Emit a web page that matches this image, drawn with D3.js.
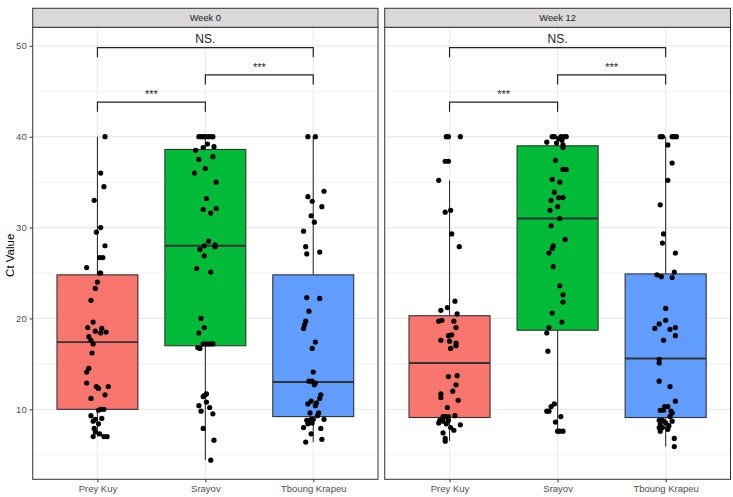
<!DOCTYPE html>
<html>
<head>
<meta charset="utf-8">
<script src="https://cdn.jsdelivr.net/npm/d3@7"></script>
<style>
  body { margin: 0; background: #fff; }
  svg { display: block; font-family: "Liberation Sans", Arial, sans-serif; }
</style>
</head>
<body>
<svg id="chart"></svg>
<script>
// ---- data ----------------------------------------------------------
const facets = ["Week 0", "Week 12"];
const sites = ["Prey Kuy", "Srayov", "Tboung Krapeu"];
const siteColors = ["#F8766D", "#00BA38", "#619CFF"];

// box stats per facet, per site
const whiskerLow  = [[7.0, 4.4, 6.4], [6.5, 7.6, 5.9]];
const q1          = [[10.0, 17.0, 9.2], [9.1, 18.7, 9.1]];
const medians     = [[17.4, 28.0, 13.0], [15.1, 31.0, 15.6]];
const q3          = [[24.8, 38.6, 24.8], [20.3, 39.0, 24.9]];
const whiskerHigh = [[40, 40, 40], [35.2, 40, 40]];

// jittered observations: [Ct value, horizontal jitter in category units]
const w0PreyKuy = [[40,.07],[36,.03],[34.5,.06],[33,-.03],[30,.03],[29.5,-.01],[28,.07],[26.7,.02],[26.7,.05],[25.6,-.10],[25,.02],[25,.03],[24,0],[23.3,-.02],[22,-.06],[19.6,-.04],[19,-.09],[18.6,-.02],[18.9,.04],[18.5,.08],[18.4,.03],[18,-.08],[17.6,-.06],[17.2,-.04],[16.2,-.05],[14.5,-.08],[14.1,-.10],[12.9,-.10],[12.5,-.01],[12.3,.01],[12.5,.10],[11.6,.07],[11.2,-.06],[10,.03],[10,.06],[9.9,.01],[9.3,-.06],[8.9,-.02],[9,.04],[8.7,-.04],[8.4,.01],[7.9,-.03],[7.5,-.02],[7.3,.02],[7,-.04],[7,.06],[7,.09]];
const w0Srayov = [[40,-.06],[40,-.04],[40,-.02],[40,0],[40,.03],[40,.06],[40,.07],[39.2,.02],[38.8,-.02],[38.9,.08],[38.5,-.09],[37.5,-.06],[37.8,.07],[36.5,0],[36,-.10],[35,.10],[33.2,.01],[32,-.02],[31.6,.05],[32.1,.10],[28.5,.03],[27.6,-.05],[28,-.01],[28.1,.09],[27.9,.09],[26.9,-.01],[25.5,-.08],[25.1,.05],[20,-.04],[19,-.01],[18.4,-.06],[17.2,-.02],[17.2,.01],[17.2,.04],[17.2,.07],[16.8,-.07],[16.7,-.05],[11.7,.01],[11.5,-.01],[11.4,-.02],[10.8,.01],[10.4,-.06],[10.2,.04],[9.8,-.04],[9.5,.07],[7.9,-.02],[6.6,.08],[4.4,.05]];
const w0Tboung = [[40,-.05],[40,.02],[34,.10],[33.4,-.05],[32.9,-.01],[32.3,.08],[31.3,-.02],[30.6,.01],[29.6,-.09],[27.9,-.07],[27.1,-.06],[27.3,.06],[22.3,-.06],[22.2,.06],[20.8,-.04],[19.7,-.07],[19.3,-.08],[18.9,-.09],[17.4,.02],[16.7,-.01],[14.1,0],[13.1,-.04],[13.1,-.01],[12.9,.02],[12.7,.01],[11.6,.07],[11.2,.06],[10.9,-.02],[10.6,-.05],[10.7,.03],[10.4,.02],[9.6,-.03],[9.6,.05],[9.3,.04],[8.8,-.06],[8.7,-.04],[8.9,-.02],[8.9,0],[8.9,.10],[8.4,-.05],[8.5,-.01],[8,-.09],[7.9,.07],[7.3,-.02],[6.7,.08],[6.4,-.07]];
const w12PreyKuy = [[40,-.03],[40,-.01],[40,.10],[37.3,-.04],[37.3,-.01],[35.2,-.10],[31.7,-.04],[31.9,.01],[29.3,.02],[27.9,.09],[21.9,.05],[20.9,-.08],[21.2,-.02],[20.5,.07],[19.7,-.10],[19.8,-.07],[19.7,.04],[19,.06],[18.1,-.01],[18.2,.02],[17.6,-.08],[17.5,0],[17.3,.06],[17,.06],[16.7,.01],[13.7,.07],[13.6,-.01],[12.7,.06],[11.7,-.08],[12,.03],[11.3,-.08],[11,.08],[10.2,-.02],[9.3,.05],[9.2,-.06],[9.2,-.04],[9.2,-.01],[8.8,-.09],[8.8,-.01],[8.5,-.10],[8.7,-.06],[8.4,-.03],[8,.01],[7.7,.04],[8.3,.10],[7.4,-.06],[6.8,-.04],[6.5,-.04]];
const w12Srayov = [[40,-.05],[40,-.03],[40,.03],[40,.06],[40,.08],[39.8,.01],[39.6,.04],[39.4,-.10],[39.3,-.01],[39.1,.05],[38.8,.05],[37.4,-.02],[36.4,.05],[36.4,.08],[35.3,-.05],[35,.02],[33.9,-.03],[33.3,.01],[33.3,.05],[33,-.06],[32.3,0],[31.9,-.07],[31,.02],[30.2,-.06],[28.7,.07],[28,-.04],[27.7,-.05],[27.2,-.08],[25.7,-.04],[23.6,.02],[22.6,.05],[21.8,.05],[20.6,-.05],[19.6,.04],[19,-.08],[18.4,-.10],[16.4,-.09],[10.6,-.03],[10.3,-.06],[9.8,-.08],[9.8,-.10],[9.2,.03],[8.6,-.02],[7.6,0],[7.6,.02],[7.6,.05]];
const w12Tboung = [[40,-.05],[40,-.03],[40,.06],[40,.08],[40,.10],[39.1,.02],[37.1,.06],[35.2,.02],[32.5,-.05],[29.3,-.02],[28.3,-.03],[27.2,.09],[24.8,-.08],[24.6,-.04],[24.5,.06],[25.1,.08],[21.1,0],[18.9,-.10],[19.4,-.06],[19.8,0],[18.8,.04],[19,.09],[18.1,.09],[17.6,-.02],[15.5,-.06],[15.1,-.06],[13.1,-.06],[12.5,.04],[10.9,.09],[10.3,-.01],[10.3,.02],[9.9,-.05],[9.9,-.02],[9.8,.05],[9.6,.06],[9.2,.04],[8.8,-.06],[8.8,-.03],[8.7,.06],[8.4,-.05],[8.5,0],[8.2,.03],[8,-.06],[8,-.03],[7.8,.02],[7.6,-.05],[6.8,.08],[5.9,.08]];
const observations = [[w0PreyKuy, w0Srayov, w0Tboung], [w12PreyKuy, w12Srayov, w12Tboung]];

// significance brackets (same in both facets)
const comparisons = [[0, 1], [1, 2], [0, 2]];
const bracketY = [43.8, 46.8, 49.8];
const bracketLabels = ["***", "***", "NS."];

const yTicks = [10, 20, 30, 40, 50];
const yMinor = [5, 15, 25, 35, 45];

// ---- layout --------------------------------------------------------
const width = 733, height = 497;
const stripTop = 8.3, panelTop = 27.3, panelBottom = 479.3;
const panelX = [[32.7, 378], [384.7, 730.5]];
const tipLen = 1.05;
const ink = "#333333", grid = "#EBEBEB";

const svg = d3.select("#chart").attr("width", width).attr("height", height);

const y = d3.scaleLinear().domain([2.3, 52.04]).range([panelBottom, panelTop]);

facets.forEach((facet, fi) => {
  const [x0, x1] = panelX[fi];
  const x = d3.scalePoint().domain(sites).range([x0, x1]).padding(0.6);
  const step = x.step();
  const boxW = step * 0.75;
  const g = svg.append("g");

  g.append("rect").attr("x", x0).attr("y", panelTop)
    .attr("width", x1 - x0).attr("height", panelBottom - panelTop).attr("fill", "#fff");

  // grid
  g.selectAll(".minor").data(yMinor).join("line")
    .attr("x1", x0).attr("x2", x1).attr("y1", d => y(d)).attr("y2", d => y(d))
    .attr("stroke", grid).attr("stroke-width", 0.7);
  g.selectAll(".major").data(yTicks).join("line")
    .attr("x1", x0).attr("x2", x1).attr("y1", d => y(d)).attr("y2", d => y(d))
    .attr("stroke", grid).attr("stroke-width", 1.2);
  g.selectAll(".vgrid").data(sites).join("line")
    .attr("x1", d => x(d)).attr("x2", d => x(d)).attr("y1", panelTop).attr("y2", panelBottom)
    .attr("stroke", grid).attr("stroke-width", 1.2);

  // boxes
  sites.forEach((s, si) => {
    const cx = x(s);
    g.append("line").attr("x1", cx).attr("x2", cx)
      .attr("y1", y(whiskerHigh[fi][si])).attr("y2", y(q3[fi][si]))
      .attr("stroke", ink).attr("stroke-width", 1.1);
    g.append("line").attr("x1", cx).attr("x2", cx)
      .attr("y1", y(q1[fi][si])).attr("y2", y(whiskerLow[fi][si]))
      .attr("stroke", ink).attr("stroke-width", 1.1);
    g.append("rect").attr("x", cx - boxW / 2).attr("width", boxW)
      .attr("y", y(q3[fi][si])).attr("height", y(q1[fi][si]) - y(q3[fi][si]))
      .attr("fill", siteColors[si]).attr("stroke", ink).attr("stroke-width", 1.1);
    g.append("line").attr("x1", cx - boxW / 2).attr("x2", cx + boxW / 2)
      .attr("y1", y(medians[fi][si])).attr("y2", y(medians[fi][si]))
      .attr("stroke", ink).attr("stroke-width", 1.9);
  });

  // jittered points
  sites.forEach((s, si) => {
    g.append("g").selectAll("circle").data(observations[fi][si]).join("circle")
      .attr("cx", d => x(s) + d[1] * step)
      .attr("cy", d => y(d[0]))
      .attr("r", 2.6)
      .attr("fill", "#000");
  });

  // significance brackets
  comparisons.forEach(([a, b], ci) => {
    const xa = x(sites[a]), xb = x(sites[b]);
    const yb = y(bracketY[ci]), yt = y(bracketY[ci] - tipLen);
    g.append("path")
      .attr("d", `M${xa},${yt}L${xa},${yb}L${xb},${yb}L${xb},${yt}`)
      .attr("fill", "none").attr("stroke", "#222").attr("stroke-width", 1.2);
    const big = bracketLabels[ci] === "NS.";
    g.append("text")
      .attr("x", (xa + xb) / 2).attr("y", yb - (big ? 4.3 : 3.8))
      .attr("text-anchor", "middle")
      .attr("font-size", big ? 12 : 11)
      .attr("fill", "#222")
      .text(bracketLabels[ci]);
  });

  // panel border
  g.append("rect").attr("x", x0).attr("y", panelTop)
    .attr("width", x1 - x0).attr("height", panelBottom - panelTop)
    .attr("fill", "none").attr("stroke", ink).attr("stroke-width", 1);

  // strip
  g.append("rect").attr("x", x0).attr("y", stripTop)
    .attr("width", x1 - x0).attr("height", panelTop - stripTop)
    .attr("fill", "#D9D9D9").attr("stroke", ink).attr("stroke-width", 1);
  g.append("text").attr("x", (x0 + x1) / 2).attr("y", (stripTop + panelTop) / 2)
    .attr("dy", "0.35em").attr("text-anchor", "middle")
    .attr("font-size", 9.3).attr("fill", "#1A1A1A").text(facet);

  // x axis
  const xa = g.append("g").attr("transform", `translate(0,${panelBottom})`)
    .call(d3.axisBottom(x).tickSize(3));
  xa.select(".domain").remove();
  xa.selectAll(".tick line").attr("stroke", ink);
  xa.selectAll(".tick text").attr("font-size", 9.5).attr("fill", "#4D4D4D")
    .attr("font-family", "Liberation Sans, Arial, sans-serif");

  // y axis on first panel only
  if (fi === 0) {
    const ya = g.append("g").attr("transform", `translate(${x0},0)`)
      .call(d3.axisLeft(y).tickValues(yTicks).tickSize(3));
    ya.select(".domain").remove();
    ya.selectAll(".tick line").attr("stroke", ink);
    ya.selectAll(".tick text").attr("font-size", 9.5).attr("fill", "#4D4D4D")
      .attr("font-family", "Liberation Sans, Arial, sans-serif");
  }
});

// y axis title
svg.append("text")
  .attr("transform", `translate(14,${(panelTop + panelBottom) / 2 + 2}) rotate(-90)`)
  .attr("text-anchor", "middle")
  .attr("font-size", 11.5)
  .attr("fill", "#000")
  .text("Ct Value");
</script>
</body>
</html>
